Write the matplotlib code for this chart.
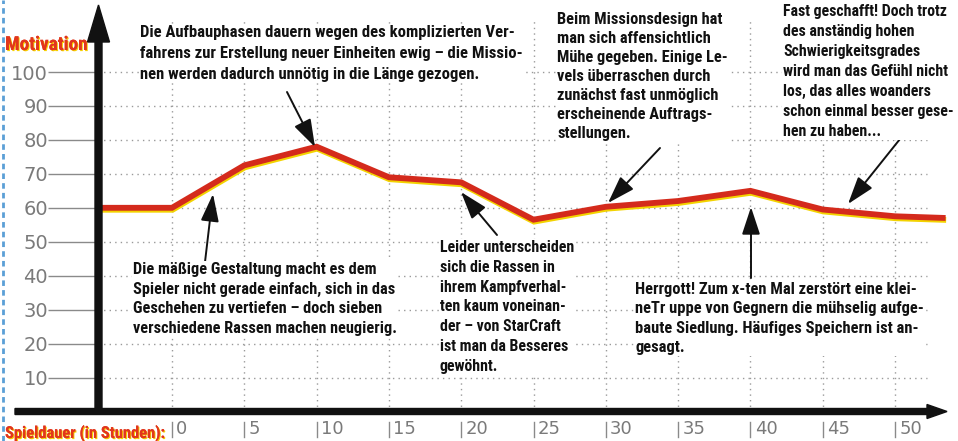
import matplotlib
matplotlib.use("Agg")
import matplotlib.pyplot as plt
import matplotlib.patheffects as pe
from matplotlib import font_manager
from matplotlib.font_manager import FontProperties
from matplotlib.lines import Line2D
from matplotlib.patches import FancyArrow
from matplotlib.text import Annotation
from matplotlib.transforms import IdentityTransform

# --- data -----------------------------------------------------------------
hours = [-5.12, 0, 5, 10, 15, 20, 25, 30, 35, 40, 45, 50, 53.5]
motivation = [60, 60, 72.5, 78, 69, 67.5, 56.5, 60.3, 62, 65, 59.5, 57.5, 57]

x_ticks = [0, 5, 10, 15, 20, 25, 30, 35, 40, 45, 50]
y_ticks = [10, 20, 30, 40, 50, 60, 70, 80, 90, 100]

y_title = "Motivation"
x_title = "Spieldauer (in Stunden):"

notes = [
    "Die Aufbauphasen dauern wegen des komplizierten Ver-\n"
    "fahrens zur Erstellung neuer Einheiten ewig – die Missio-\n"
    "nen werden dadurch unnötig in die Länge gezogen.",
    "Die mäßige Gestaltung macht es dem\n"
    "Spieler nicht gerade einfach, sich in das\n"
    "Geschehen zu vertiefen – doch sieben\n"
    "verschiedene Rassen machen neugierig.",
    "Beim Missionsdesign hat\n"
    "man sich affensichtlich\n"
    "Mühe gegeben. Einige Le-\n"
    "vels überraschen durch\n"
    "zunächst fast unmöglich\n"
    "erscheinende Auftrags-\n"
    "stellungen.",
    "Fast geschafft! Doch trotz\n"
    "des anständig hohen\n"
    "Schwierigkeitsgrades\n"
    "wird man das Gefühl nicht\n"
    "los, das alles woanders\n"
    "schon einmal besser gese-\n"
    "hen zu haben...",
    "Herrgott! Zum x-ten Mal zerstört eine klei-\n"
    "neTr uppe von Gegnern die mühselig aufge-\n"
    "baute Siedlung. Häufiges Speichern ist an-\n"
    "gesagt.",
    "Leider unterscheiden\n"
    "sich die Rassen in\n"
    "ihrem Kampfverhal-\n"
    "ten kaum voneinan-\n"
    "der – von StarCraft\n"
    "ist man da Besseres\n"
    "gewöhnt.",
]

# --- fonts: prefer a narrow/condensed bold face ----------------------------
def pick_bold_face():
    files = [f.fname for f in font_manager.fontManager.ttflist]
    wanted = ["LiberationSansNarrow-Bold.", "RobotoCondensed-Bold.",
              "DejaVuSansCondensed-Bold.", "OpenSans_Condensed-Bold.",
              "OpenSansCondensed-Bold.", "OpenSans-CondBold."]
    for w in wanted:
        for f in files:
            if f.split("/")[-1].startswith(w):
                return FontProperties(fname=f)
    for fam in ["Roboto", "Liberation Sans", "DejaVu Sans"]:
        try:
            path = font_manager.findfont(FontProperties(family=fam, weight="bold"),
                                         fallback_to_default=False)
            return FontProperties(fname=path)
        except Exception:
            continue
    return FontProperties(family="DejaVu Sans", weight="bold")


bold_face = pick_bold_face()

W, H = 958, 441
fig = plt.figure(figsize=(W / 100, H / 100), dpi=100)
fig.patch.set_facecolor("white")
renderer = fig.canvas.get_renderer()


def fp(x, y):
    """top-left pixel position -> figure pixels"""
    return (x, H - y)


def fit_text(t, width_px, pitch_px=None):
    """scale font size so the widest line spans width_px; set line pitch"""
    lines = t.get_text().split("\n")
    widest = max(lines, key=len)
    probe = fig.text(0, 0, "", fontproperties=t.get_fontproperties())
    best = 0
    for ln in lines:
        probe.set_text(ln)
        best = max(best, probe.get_window_extent(renderer).width)
    probe.set_fontsize(t.get_fontsize())
    t.set_fontsize(t.get_fontsize() * width_px / best)
    if pitch_px is not None and len(lines) > 1:
        probe.set_fontsize(t.get_fontsize())
        probe.set_text("A\nA")
        probe.set_linespacing(1.0)
        h2 = probe.get_window_extent(renderer).height
        probe.set_text("A")
        h1 = probe.get_window_extent(renderer).height
        t.set_linespacing(pitch_px / (h2 - h1))
    probe.remove()


# plot area: y axis at x=98 px, x axis at y=411.5 px
x0_px, y0_px = 98, 411.5
px_per_hour = 14.46
px_per_unit = 3.395
ax = fig.add_axes([x0_px / W, (H - y0_px) / H, 1 - x0_px / W, y0_px / H])
ax.set_xlim(-(172 - x0_px) / px_per_hour, (W - 172) / px_per_hour)
ax.set_ylim(0, y0_px / px_per_unit)
for s in ax.spines.values():
    s.set_visible(False)
ax.set_facecolor("none")

# dotted grid
grid_kw = dict(color="#9a9a9a", lw=1.0, ls=(0, (1, 3)), zorder=1)
ax.hlines(y_ticks, ax.get_xlim()[0], 52.2, **grid_kw)
ax.vlines(x_ticks, 0, 116, **grid_kw)

# y ticks: long grey lead lines with grey numbers
ax.set_yticks(y_ticks)
ax.set_yticklabels([str(v) for v in y_ticks])
ax.tick_params(axis="y", length=36, width=1.0, color="#8a8a8a", pad=0,
               labelsize=14, labelcolor="#7a7a7a")
ax.set_xticks([])

# x ticks: small bar and number to its right
for t in x_ticks:
    ax.plot([t, t], [-3.2, -7.4], color="#8a8a8a", lw=1.0, clip_on=False)
    ax.annotate(str(t), xy=(t, -2.4), xytext=(3, 0), textcoords="offset points",
                ha="left", va="top", fontsize=13, color="#7a7a7a",
                annotation_clip=False)

# motivation curve: red with a yellow edge underneath
ax.plot(hours, motivation, color="#d42a1c", lw=4.2, solid_joinstyle="miter",
        solid_capstyle="butt", zorder=5,
        path_effects=[pe.SimpleLineShadow(offset=(0.4, -1.4),
                                          shadow_color="#f3d300", alpha=1.0),
                      pe.Normal()])

# axis arrows
it = IdentityTransform()
fig.patches.append(FancyArrow(98.5, H - 413, 0, 413 - 5, width=7, head_width=22,
                              head_length=37, length_includes_head=True,
                              color="#111111", transform=it, figure=fig, zorder=6))
fig.patches.append(FancyArrow(15, H - 411.5, 947 - 15, 0, width=6, head_width=14,
                              head_length=20, length_includes_head=True,
                              color="#111111", transform=it, figure=fig, zorder=6))

# axis titles
title_fx = [pe.withSimplePatchShadow(offset=(0.8, -0.8), shadow_rgbFace="#f6cf00",
                                     alpha=1.0), pe.Normal()]
yt = fig.text(5 / W, 1 - 50 / H, y_title, fontproperties=bold_face, fontsize=14,
              color="#e2361c", ha="left", va="baseline", path_effects=title_fx)
fit_text(yt, 83)
xt = fig.text(5 / W, 1 - 438 / H, x_title, fontproperties=bold_face, fontsize=12,
              color="#e2361c", ha="left", va="baseline", path_effects=title_fx)
fit_text(xt, 160)

# comments: (left, top, widest line, line pitch) in pixels
note_box = [(140, 25, 381, 22.5), (133, 262, 264, 20.7), (557, 12, 171, 20),
            (783, 4, 172, 21.3), (635, 282, 290, 20.5), (440, 240, 135, 21)]
arrows = [((287, 92), (315, 147)), ((205, 262), (213, 194)),
          ((660, 148), (608, 203)), ((904, 134), (848, 204)),
          ((751, 278), (751, 207)), ((497, 235), (461, 192))]

for txt, (tx, ty, wpx, pitch) in zip(notes, note_box):
    t = fig.text(tx / W, 1 - ty / H, txt, fontproperties=bold_face, fontsize=12,
                 color="#111111", ha="left", va="top", zorder=7,
                 bbox=dict(boxstyle="square,pad=0.05", fc="white", ec="none"))
    fit_text(t, wpx, pitch)

for (tail, tip) in arrows:
    fig.add_artist(Annotation(
        "", xy=fp(*tip), xytext=fp(*tail), xycoords="figure pixels",
        textcoords="figure pixels",
        arrowprops=dict(arrowstyle="-|>,head_length=0.85,head_width=0.28",
                        mutation_scale=20, lw=1.4, color="#111111",
                        shrinkA=0, shrinkB=0)))

# blue page edge on the left
fig.add_artist(Line2D([2.5 / W, 2.5 / W], [0, 1], transform=fig.transFigure,
                      color="#5b9fd6", lw=2, ls=(0, (2, 1.5))))

fig.savefig("out.png", dpi=100)
